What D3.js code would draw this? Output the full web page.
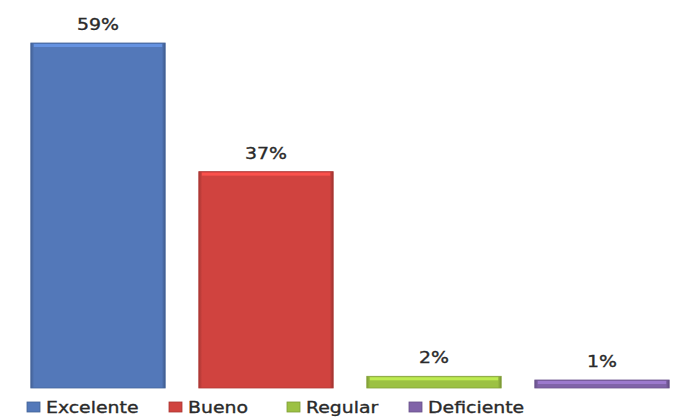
<!DOCTYPE html>
<html>
<head>
<meta charset="utf-8">
<script src="https://cdn.jsdelivr.net/npm/d3@7"></script>
<style>
  body { margin: 0; background: #fff; }
  text { font-family: "DejaVu Sans", sans-serif; fill: #2a2a2a; stroke: #2a2a2a; stroke-width: 0.35px; }
</style>
</head>
<body>
<div id="chart"></div>
<script>
const categories = ["Excelente", "Bueno", "Regular", "Deficiente"];
const values = [59, 37, 2, 1];
const labels = ["59%", "37%", "2%", "1%"];
const colors = ["#5378b9", "#d0433f", "#9cc143", "#8063a8"];

const W = 680, H = 419;
const BASE = 388;
const svg = d3.select("#chart").append("svg")
  .attr("width", W).attr("height", H);

const x = d3.scaleBand()
  .domain(categories)
  .range([14, 686])
  .paddingInner(0.2)
  .paddingOuter(0.1);

const y = d3.scaleLinear()
  .domain([0, 59])
  .range([BASE, 43]);

const defs = svg.append("defs");
categories.forEach((c, i) => {
  const base = d3.color(colors[i]);
  const g = defs.append("linearGradient")
    .attr("id", "side" + i)
    .attr("x1", "0").attr("x2", "1").attr("y1", "0").attr("y2", "0");
  g.append("stop").attr("offset", "0").attr("stop-color", base.darker(0.6));
  g.append("stop").attr("offset", "0.025").attr("stop-color", base);
  g.append("stop").attr("offset", "0.975").attr("stop-color", base);
  g.append("stop").attr("offset", "1").attr("stop-color", base.darker(0.8));
});

// min height so tiny values still show
const barTop = v => Math.min(y(v), BASE - 8);

const bars = svg.selectAll("g.bar")
  .data(categories)
  .enter().append("g").attr("class", "bar");

bars.append("rect")
  .attr("x", d => x(d))
  .attr("y", (d, i) => barTop(values[i]))
  .attr("width", x.bandwidth())
  .attr("height", (d, i) => BASE - barTop(values[i]))
  .attr("fill", (d, i) => `url(#side${i})`)
  .attr("stroke", (d, i) => d3.color(colors[i]).darker(0.5))
  .attr("stroke-width", 0.8);

// light bevel on top
bars.append("rect")
  .attr("x", d => x(d) + 3)
  .attr("y", (d, i) => barTop(values[i]) + 1)
  .attr("width", x.bandwidth() - 6)
  .attr("height", 3)
  .attr("fill", (d, i) => d3.color(colors[i]).brighter(0.6))
  .attr("opacity", 0.9);

// value labels
bars.append("text")
  .attr("transform", (d, i) =>
    `translate(${x(d) + x.bandwidth() / 2},${barTop(values[i]) - 13}) scale(1.18,1)`)
  .attr("text-anchor", "middle")
  .style("font-size", "16px")
  .text((d, i) => labels[i]);

// legend
const legendX = [27, 169, 287, 409];
const legend = svg.selectAll("g.legend")
  .data(categories)
  .enter().append("g").attr("class", "legend")
  .attr("transform", (d, i) => `translate(${legendX[i]},402)`);

legend.append("rect")
  .attr("width", 13).attr("height", 10)
  .attr("fill", (d, i) => colors[i])
  .attr("stroke", (d, i) => d3.color(colors[i]).darker(0.6))
  .attr("stroke-width", 0.8);

legend.append("text")
  .attr("transform", "translate(19,11) scale(1.18,1)")
  .style("font-size", "16px")
  .text(d => d);
</script>
</body>
</html>
